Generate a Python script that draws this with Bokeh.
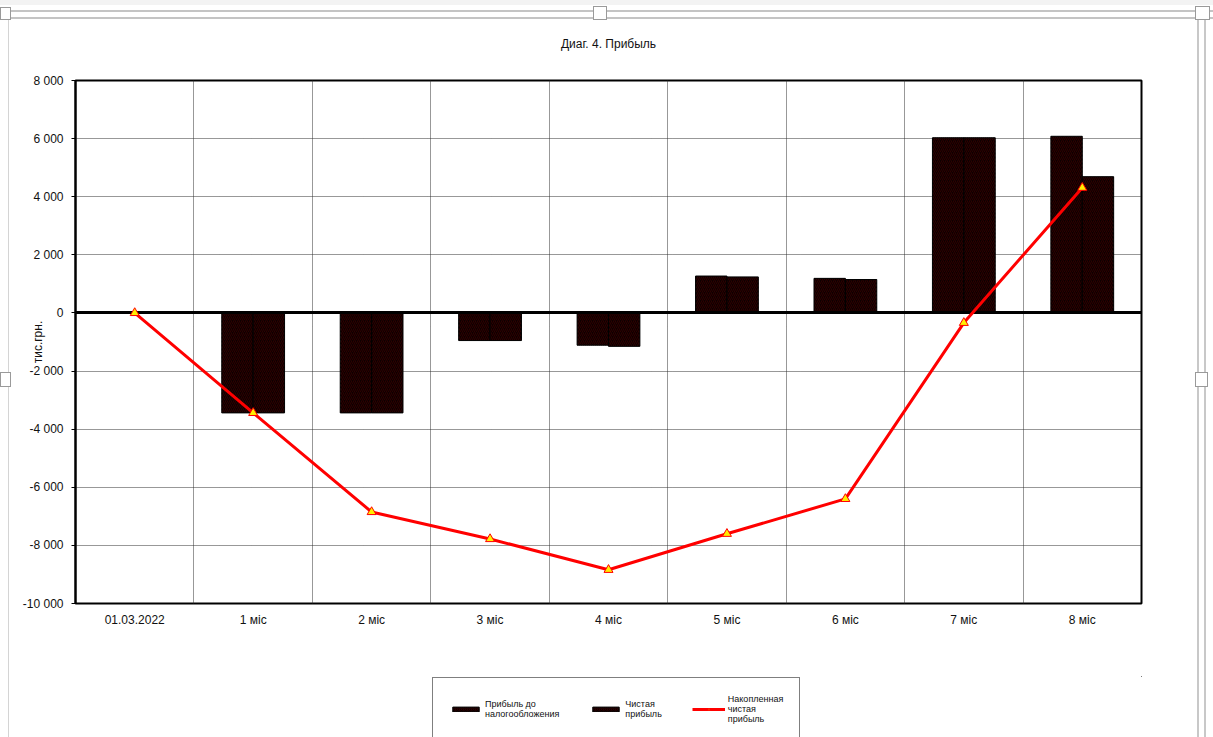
import numpy as np
from bokeh.plotting import figure
from bokeh.layouts import column
from bokeh.models import (FixedTicker, Range1d, Legend, LegendItem,
                          ColumnDataSource, InlineStyleSheet)
from bokeh.transform import dodge
from bokeh.embed import file_html
from bokeh.resources import INLINE

# ---------------- data ----------------
categories = ["01.03.2022", "1 міс", "2 міс", "3 міс", "4 міс",
              "5 міс", "6 міс", "7 міс", "8 міс"]
pre_tax_profit = [0, -3440, -3440, -950, -1110, 1270, 1190, 6030, 6080]
net_profit = [0, -3440, -3440, -950, -1150, 1240, 1150, 6030, 4690]
cumulative_net_profit = [0, -3440, -6850, -7780, -8840, -7600, -6400, -340, 4310]

y_ticks = [-10000, -8000, -6000, -4000, -2000, 0, 2000, 4000, 6000, 8000]
y_tick_labels = ["-10 000", "-8 000", "-6 000", "-4 000", "-2 000", "0",
                 "2 000", "4 000", "6 000", "8 000"]

title_text = "Диаг. 4. Прибыль"
y_axis_title = "тис.грн."
legend_labels = ["Прибыль до\nналогообложения", "Чистая\nприбыль",
                 "Накопленная\nчистая\nприбыль"]

FONT = "Liberation Sans"
W, H = 1213, 737
CHART_H = 676          # chart part; the legend strip fills the rest

pos = (np.arange(len(categories)) + 0.5).tolist()
src = ColumnDataSource(dict(x=pos, pre=pre_tax_profit, net=net_profit,
                            cum=cumulative_net_profit))

p = figure(width=W, height=CHART_H, output_backend="svg", toolbar_location=None,
           x_range=Range1d(0, len(categories)),
           y_range=Range1d(y_ticks[0], y_ticks[-1]),
           min_border_left=75, min_border_right=72,
           min_border_top=80, min_border_bottom=CHART_H - 603,
           title=title_text)
p.background_fill_color = "white"
p.border_fill_color = "white"
p.outline_line_color = "black"
p.outline_line_width = 2

p.title.align = "center"
p.title.text_font = FONT
p.title.text_font_size = "12px"
p.title.text_font_style = "normal"
p.title.text_color = "#111111"
p.title.standoff = 60

# grids
p.xgrid.ticker = FixedTicker(ticks=list(range(1, len(categories))))
p.ygrid.ticker = FixedTicker(ticks=y_ticks)
for g in (p.xgrid, p.ygrid):
    g.grid_line_color = "#303030"
    g.grid_line_dash = "1 1"
    g.grid_line_width = 1

# x axis
xa = p.xaxis[0]
xa.ticker = FixedTicker(ticks=pos)
xa.major_label_overrides = {x: c for x, c in zip(pos, categories)}
xa.axis_line_color = None
xa.major_tick_line_color = None
xa.major_tick_out = 0
xa.major_tick_in = 0
xa.minor_tick_line_color = None
xa.major_label_text_font = FONT
xa.major_label_text_font_size = "12px"
xa.major_label_text_color = "#111111"
xa.major_label_standoff = 9

# y axis
ya = p.yaxis[0]
ya.ticker = FixedTicker(ticks=y_ticks)
ya.major_label_overrides = {t: l for t, l in zip(y_ticks, y_tick_labels)}
ya.axis_line_color = "black"
ya.axis_line_width = 2
ya.major_tick_line_color = "black"
ya.major_tick_out = 4
ya.major_tick_in = 0
ya.minor_tick_line_color = None
ya.major_label_text_font = FONT
ya.major_label_text_font_size = "12px"
ya.major_label_text_color = "#111111"
ya.major_label_standoff = 8
ya.axis_label = y_axis_title
ya.axis_label_text_font = FONT
ya.axis_label_text_font_size = "12px"
ya.axis_label_text_font_style = "normal"
ya.axis_label_text_color = "#111111"
ya.axis_label_standoff = -25

bar_kw = dict(fill_color="#0d0000", line_color="black", line_width=1,
              hatch_pattern="right_diagonal_line", hatch_color="#2e0000",
              hatch_scale=4, hatch_weight=1)
line_kw = dict(line_color="#ff0000", line_width=3)
pt_kw = dict(marker="triangle", size=9, fill_color="#ffee00",
             line_color="#ff0000", line_width=1)

p.vbar(x=dodge("x", -0.1325, range=p.x_range), top="pre", bottom=0,
       width=0.265, source=src, **bar_kw)
p.vbar(x=dodge("x", 0.1325, range=p.x_range), top="net", bottom=0,
       width=0.265, source=src, **bar_kw)
p.hspan(y=[0], line_color="black", line_width=3)
p.line("x", "cum", source=src, **line_kw)
p.scatter("x", "cum", source=src, **pt_kw)

# ---------------- legend strip (own small figure; key glyphs use the first point only) ----------------
key_src = ColumnDataSource(dict(x=pos[:1], pre=pre_tax_profit[:1],
                                net=net_profit[:1], cum=cumulative_net_profit[:1]))
lg = figure(width=W, height=H - CHART_H, output_backend="svg", toolbar_location=None,
            x_range=Range1d(-3, -2), y_range=Range1d(-3, -2),
            x_axis_location=None, y_axis_location=None, min_border=0)
lg.outline_line_color = None
lg.background_fill_color = "white"
lg.border_fill_color = "white"
lg.grid.visible = False
k_pre = lg.vbar(x="x", top="pre", bottom=0, width=0.265, source=key_src, **bar_kw)
k_net = lg.vbar(x="x", top="net", bottom=0, width=0.265, source=key_src, **bar_kw)
k_line = lg.line("x", "cum", source=key_src, **line_kw)
k_pts = lg.scatter("x", "cum", source=key_src, **pt_kw)

legend = Legend(items=[LegendItem(label=legend_labels[0], renderers=[k_pre]),
                       LegendItem(label=legend_labels[1], renderers=[k_net]),
                       LegendItem(label=legend_labels[2], renderers=[k_line, k_pts])],
                location=(357, -4), orientation="horizontal",
                glyph_width=33, glyph_height=6, label_standoff=3,
                spacing=30, padding=16, margin=0,
                label_text_font=FONT, label_text_font_size="9px",
                label_text_line_height=1.15, label_text_color="#111111",
                border_line_color="black", border_line_width=1,
                background_fill_color="white", background_fill_alpha=1)
lg.add_layout(legend, "center")

layout = column(p, lg, spacing=0)

# window chrome of the original screenshot (gray frame lines and handles)
layers = []
def rect(x, y, w, h, color):
    layers.append(f"linear-gradient({color},{color}) {x}px {y}px / {w}px {h}px no-repeat")

for (hx, hy, hw, hh) in [(593, 6, 14, 14), (1195, 6, 15, 14), (0, 7, 11, 13),
                         (0, 372, 11, 15), (1195, 372, 13, 15)]:
    rect(hx + 1, hy + 1, hw - 2, hh - 2, "#ffffff")
    rect(hx, hy, hw, hh, "#9a9a9a")
rect(0, 0, W, 5, "#f3f3f3")
rect(0, 10, W, 2, "#c4c4c4")
rect(0, 17, W, 2, "#c4c4c4")
rect(8, 18, 1, H - 18, "#d4d4d4")
rect(1197, 18, 2, H - 18, "#c8c8c8")
rect(1204, 18, 2, H - 18, "#c8c8c8")
css = (":host::after { content: ''; position: absolute; left: 0; top: 0; "
       f"width: {W}px; height: {H}px; pointer-events: none; z-index: 10; "
       "background: " + ", ".join(layers) + "; }")
layout.stylesheets = [InlineStyleSheet(css=css)]

open("out.html", "w").write(file_html(layout, INLINE))
